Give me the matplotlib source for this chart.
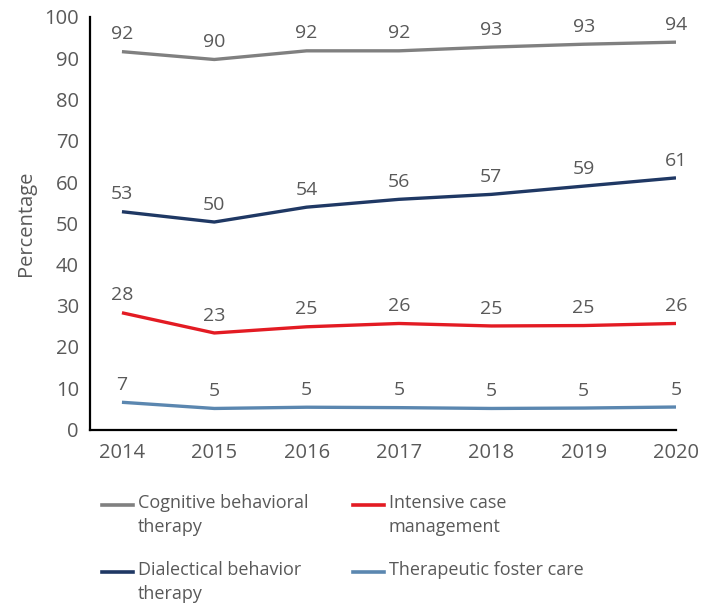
import matplotlib
matplotlib.use("Agg")
import matplotlib.pyplot as plt
from matplotlib.lines import Line2D

years = [2014, 2015, 2016, 2017, 2018, 2019, 2020]
cbt = [91.6, 89.7, 91.8, 91.8, 92.7, 93.4, 93.9]
dbt = [52.8, 50.3, 53.9, 55.8, 57.0, 59.0, 61.0]
icm = [28.3, 23.4, 24.9, 25.7, 25.1, 25.2, 25.7]
tfc = [6.6, 5.1, 5.4, 5.3, 5.1, 5.2, 5.45]

series_names = ["Cognitive behavioral\ntherapy", "Intensive case\nmanagement",
                "Dialectical behavior\ntherapy", "Therapeutic foster care"]
series_vals = [cbt, icm, dbt, tfc]
colors = ["#808080", "#e31b23", "#1f3864", "#5b87b0"]

plt.rcParams['font.family'] = ['Open Sans', 'DejaVu Sans']
txt = "#595959"

fig = plt.figure(figsize=(7.13, 6.11), dpi=100)
ax = fig.add_axes([90/713, 1-429.5/611, (676-90)/713, (429.5-17)/611])

for vals, c in zip(series_vals, colors):
    ax.plot(years, vals, color=c, lw=2.4, solid_capstyle='butt', zorder=3)
    for x, v in zip(years, vals):
        ax.annotate(f"{round(v):d}", (x, v), xytext=(0, 12.5), textcoords='offset points',
                    ha='center', va='center', fontsize=14, color=txt)

ax.set_ylim(0, 100)
ax.set_xlim(2014 - 32/92.5, 2020)
ax.set_yticks(range(0, 101, 10))
ax.set_xticks(years)
ax.tick_params(length=0, labelsize=14.5, labelcolor=txt)
ax.tick_params(axis='y', pad=8)
ax.tick_params(axis='x', pad=10)
for s in ['top', 'right']:
    ax.spines[s].set_visible(False)
for s in ['left', 'bottom']:
    ax.spines[s].set_linewidth(1.6)
    ax.spines[s].set_color('black')
ax.set_ylabel("Percentage", fontsize=14.5, color=txt, labelpad=6)

# legend (manual, handle aligned with first text line)
pos = [(102, 505), (353, 505), (102, 572), (353, 572)]
for (px, py), name, c in zip(pos, series_names, colors):
    fy = 1 - py/611
    fig.add_artist(Line2D([px/713, (px+31)/713], [fy, fy], color=c, lw=2.6,
                          transform=fig.transFigure))
    fig.text((px+36)/713, 1 - (py-11)/611, name, ha='left', va='top',
             fontsize=13, color=txt, linespacing=1.45)

fig.savefig("out.png", dpi=100)
